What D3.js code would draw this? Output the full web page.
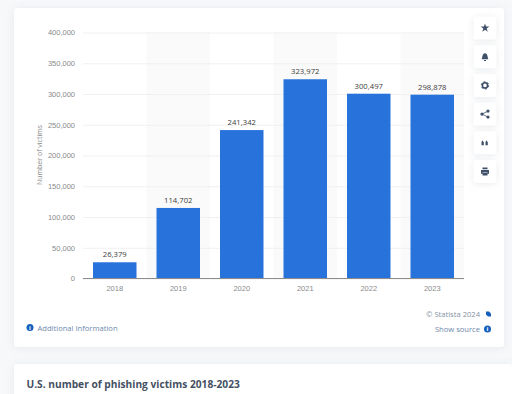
<!DOCTYPE html>
<html lang="en">
<head>
    <meta charset="UTF-8">
    <title>U.S. number of phishing victims 2018-2023</title>
    <style>
        html,body{ margin:0; padding:0; background:#f7f8fa; overflow:hidden; }
        svg{ display:block; font-family:"Open Sans",sans-serif; }
        .card{ fill:#fff; filter:drop-shadow(0 1px 4px rgba(30,50,80,.08)); }
        .btn{ fill:#fff; filter:drop-shadow(0 1px 3px rgba(30,50,80,.10)); }
        .axis path{ display:none; }
        .y line{ stroke:#f0f0f0; }
        .x line{ display:none; }
        .axis text{ font-size:7.5px; fill:#8a8a8a; }
        .value{ font-size:7.7px; fill:#3d3d3d; text-anchor:middle; }
        .link{ font-size:7.6px; fill:#6c88ab; }
        .icon{ fill:#3f5068; }
    </style>
    <script src="https://cdn.jsdelivr.net/npm/d3@7"></script>
</head>
<body>
<script>
    var categories = ['2018','2019','2020','2021','2022','2023'],
        victims = [26379,114702,241342,323972,300497,298878],
        yTicks = [0,50000,100000,150000,200000,250000,300000,350000,400000],
        shadedYears = ['2019','2021','2023'];

    var w = 512,
        h = 394,
        padding = {left:83,right:48,top:32.5,bottom:115.5},
        svg = d3.select('body').append('svg').attr('width',w).attr('height',h);

    //比例尺
    var xScale = d3.scaleBand()
                    .domain(categories)
                    .range([padding.left,w - padding.right])
                    .paddingInner(0.315)
                    .paddingOuter(0.1575),
        yScale = d3.scaleLinear()
                    .domain([0,400000])
                    .range([h - padding.bottom,padding.top]);

    //卡片
    svg.append('rect').attr('class','card').attr('x',14).attr('y',8).attr('width',490).attr('height',339).attr('rx',3);
    svg.append('rect').attr('class','card').attr('x',14).attr('y',364).attr('width',498).attr('height',40).attr('rx',3);

    //alternate column shading
    svg.selectAll('.band')
        .data(shadedYears)
        .enter()
        .append('rect')
        .attr('class','band')
        .attr('x',function(d){ return xScale(d) - xScale.step() * 0.1575; })
        .attr('y',padding.top)
        .attr('width',xScale.step())
        .attr('height',h - padding.bottom - padding.top)
        .attr('fill','#fafafa');

    svg.append('g')
        .attr('class','axis y')
        .attr('transform','translate('+padding.left+',0)')
        .call(d3.axisLeft(yScale)
            .tickValues(yTicks)
            .tickSizeInner(-(w - padding.left - padding.right))
            .tickSizeOuter(0)
            .tickPadding(8)
            .tickFormat(d3.format(',')));

    svg.append('g')
        .attr('class','axis x')
        .attr('transform','translate(0,'+(h - padding.bottom)+')')
        .call(d3.axisBottom(xScale).tickSize(0).tickPadding(7));

    svg.append('text')
        .attr('transform','translate(42,155) rotate(-90)')
        .attr('text-anchor','middle')
        .attr('font-size',7)
        .attr('fill','#8a8a8a')
        .text('Number of victims');

    svg.selectAll('.bar')
        .data(victims)
        .enter()
        .append('rect')
        .attr('class','bar')
        .attr('x',function(d,i){ return xScale(categories[i]); })
        .attr('y',function(d){ return yScale(d); })
        .attr('width',xScale.bandwidth())
        .attr('height',function(d){ return yScale(0) - yScale(d); })
        .attr('fill','#2772db');

    svg.selectAll('.value')
        .data(victims)
        .enter()
        .append('text')
        .attr('class','value')
        .attr('x',function(d,i){ return xScale(categories[i]) + xScale.bandwidth()/2; })
        .attr('y',function(d){ return yScale(d) - 5; })
        .text(d3.format(','));

    //baseline
    svg.append('line')
        .attr('x1',padding.left)
        .attr('x2',w - padding.right)
        .attr('y1',yScale(0))
        .attr('y2',yScale(0))
        .attr('stroke','#8c8c8c');

    //links
    svg.append('circle').attr('cx',30).attr('cy',327.5).attr('r',3.5).attr('fill','#1560bd');
    svg.append('text').attr('x',30).attr('y',329.7).attr('text-anchor','middle').attr('font-size',6).attr('font-weight',700).attr('fill','#fff').text('i');
    svg.append('text').attr('class','link').attr('x',37.5).attr('y',330.5).text('Additional Information');
    svg.append('text').attr('class','link').attr('x',480).attr('y',316.5).attr('text-anchor','end').attr('style','fill:#84929f').text('© Statista 2024');
    svg.append('path').attr('d','M486,311.5h3l2,2v3h-3l-2,-2z').attr('fill','#1560bd');
    svg.append('text').attr('class','link').attr('x',480).attr('y',332).attr('text-anchor','end').text('Show source');
    svg.append('circle').attr('cx',487.5).attr('cy',329).attr('r',3.5).attr('fill','#1560bd');
    svg.append('text').attr('x',487.5).attr('y',331.2).attr('text-anchor','middle').attr('font-size',6).attr('font-weight',700).attr('fill','#fff').text('i');

    //title
    svg.append('text')
        .attr('x',26.5)
        .attr('y',387.5)
        .attr('font-size',10.2)
        .attr('font-weight',700)
        .attr('fill','#445062')
        .text('U.S. number of phishing victims 2018-2023');

    //side buttons
    var buttonRows = ['star','bell','gear','share','quote','print'];
    var buttons = svg.selectAll('.tool')
        .data(buttonRows)
        .enter()
        .append('g')
        .attr('class','tool')
        .attr('transform',function(d,i){ return 'translate(485,'+(28 + i * 28.7)+')'; });
    buttons.append('rect').attr('class','btn').attr('x',-11.5).attr('y',-11.5).attr('width',23).attr('height',23).attr('rx',2);
    buttons.each(function(d){
        var g = d3.select(this);
        if(d === 'star'){
            g.append('path').attr('class','icon').attr('d',d3.symbol(d3.symbolStar,24)());
        }else if(d === 'bell'){
            g.append('path').attr('class','icon').attr('d','M-3.5,2.5c1,-1 .5,-6 3.5,-6s2.5,5 3.5,6zM-1,3.2h2v1h-2z');
        }else if(d === 'gear'){
            g.append('circle').attr('r',2.6).attr('fill','none').attr('stroke','#3f5068').attr('stroke-width',1.6);
            g.append('circle').attr('r',3.7).attr('fill','none').attr('stroke','#3f5068').attr('stroke-width',1).attr('stroke-dasharray','1.9 1.97');
        }else if(d === 'share'){
            g.append('path').attr('d','M3,-3L-3,0L3,3').attr('fill','none').attr('stroke','#3f5068').attr('stroke-width',0.8);
            g.selectAll('.node').data([[3,-3],[-3,0],[3,3]]).enter().append('circle')
                .attr('class','icon node').attr('cx',function(p){ return p[0]; }).attr('cy',function(p){ return p[1]; }).attr('r',1.6);
        }else if(d === 'quote'){
            g.append('path').attr('class','icon').attr('d','M-3.5,2.5v-2.5c0,-1.2 .5,-2 1.5,-2.3v1.3h.8v3.5zM.5,2.5v-2.5c0,-1.2 .5,-2 1.5,-2.3v1.3h.8v3.5z');
        }else{
            g.append('path').attr('class','icon').attr('d','M-2.5,-4h5v1.8h-5zM-4,-1.4h8v3.6h-1.5v-1.2h-5v1.2h-1.5zM-2.5,1.6h5v2.4h-5z');
        }
    });
</script>
</body>
</html>
